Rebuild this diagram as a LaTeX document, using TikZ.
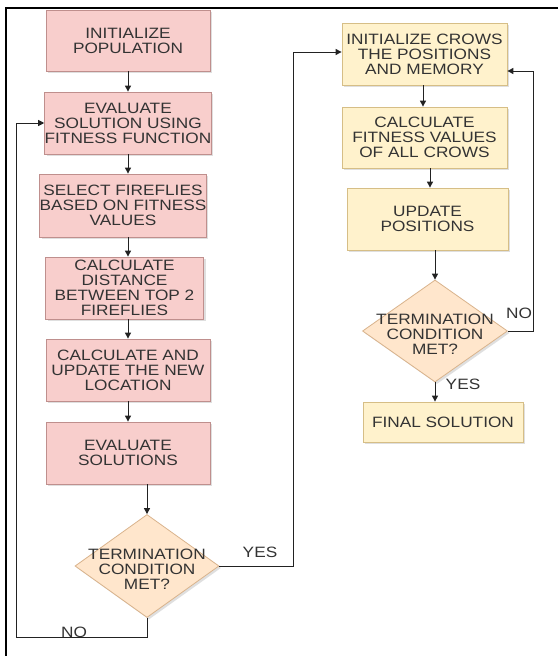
\documentclass[tikz,border=0pt]{standalone}
\usepackage{fontspec}
\setmainfont{Liberation Sans}
\newfontfamily\boxfont{Liberation Sans}[FakeStretch=1.15]
\usetikzlibrary{shapes.geometric,arrows.meta,shadows,calc}
\definecolor{pinkfill}{HTML}{F8CECC}
\definecolor{pinkdraw}{HTML}{BF8F8D}
\definecolor{yelfill}{HTML}{FFF2CC}
\definecolor{yeldraw}{HTML}{D6BE86}
\definecolor{diafill}{HTML}{FFE6CC}
\definecolor{diadraw}{HTML}{D9B38C}
\definecolor{txtgray}{HTML}{333333}
\definecolor{linecol}{HTML}{222222}
\tikzset{
  txt/.style={text=txtgray, font=\boxfont\fontsize{15}{15}\selectfont, align=center, inner sep=0pt},
  shd/.style={drop shadow={shadow xshift=2pt, shadow yshift=-2pt, opacity=0.25, fill=gray}},
  pbox/.style={rectangle, draw=pinkdraw, fill=pinkfill, line width=0.8pt, txt, shd},
  ybox/.style={rectangle, draw=yeldraw, fill=yelfill, line width=0.8pt, txt, shd},
  dia/.style={diamond, draw=diadraw, fill=diafill, line width=0.8pt, inner sep=0pt, shd},
  arr/.style={draw=linecol, line width=1pt, -{Triangle[length=6pt,width=6pt]}},
  lbl/.style={text=txtgray, font=\boxfont\fontsize{15}{15}\selectfont, inner sep=0pt}
}
\begin{document}
\begin{tikzpicture}[x=1pt,y=-1pt]
\useasboundingbox (0,0) rectangle (558,656);
\fill[white] (0,0) rectangle (558,656);
\draw[line width=2pt, black] (558,8) -- (6,8) -- (6,656);

% left column
\node[pbox, minimum width=164pt, minimum height=61pt] (ip) at (128,40.5) {INITIALIZE\\POPULATION};
\node[pbox, minimum width=164pt, minimum height=62pt] (es) at (128,123) {EVALUATE\\SOLUTION USING\\FITNESS FUNCTION};
\node[pbox, minimum width=160pt, minimum height=63pt] (sf) at (123,205.5) {SELECT FIREFLIES\\BASED ON FITNESS\\VALUES};
\node[pbox, minimum width=158pt, minimum height=62pt] (cd) at (124.5,288) {CALCULATE\\DISTANCE\\BETWEEN TOP 2\\FIREFLIES};
\node[pbox, minimum width=164pt, minimum height=62pt] (cu) at (128,370) {CALCULATE AND\\UPDATE THE NEW\\LOCATION};
\node[pbox, minimum width=164pt, minimum height=62pt] (ev) at (128,453) {EVALUATE\\SOLUTIONS};
\node[dia, minimum width=144pt, minimum height=103pt,
  label={[txt, yshift=-3pt]center:{TERMINATION\\CONDITION\\MET?}}] (dl) at (147,566) {};

% right column
\node[ybox, minimum width=165pt, minimum height=62pt] (ic) at (424.5,54) {INITIALIZE CROWS\\THE POSITIONS\\AND MEMORY};
\node[ybox, minimum width=165pt, minimum height=61pt] (cf) at (424.5,137.5) {CALCULATE\\FITNESS VALUES\\OF ALL CROWS};
\node[ybox, minimum width=161pt, minimum height=62pt] (up) at (427.5,219) {UPDATE\\POSITIONS};
\node[dia, minimum width=145pt, minimum height=102pt,
  label={[txt, yshift=-3pt]center:{TERMINATION\\CONDITION\\MET?}}] (dr) at (435,331) {};
\node[ybox, minimum width=160pt, minimum height=40pt] (fs) at (443,422) {FINAL SOLUTION};

% left connectors
\draw[arr] (ip) -- (es);
\draw[arr] (es.south) -- (es.south |- sf.north);
\draw[arr] (sf.south -| es.south) -- (cd.north -| es.south);
\draw[arr] (cd.south -| es.south) -- (cu.north);
\draw[arr] (cu) -- (ev);
\draw[arr] (ev.south -| dl.north) -- (dl.north);
\draw[arr] (dl.south) -- ++(0,20) -| ($(es.west)+(-28,0)$) -- (es.west);
\draw[arr] (dl.east) -- ++(74,0) |- ([yshift=2pt]ic.west);

% right connectors
\draw[arr] ([xshift=-1.5pt]ic.south) -- ([xshift=-1.5pt]cf.north);
\draw[arr] ([xshift=5.5pt]cf.south) -- ([xshift=5.5pt]cf.south |- up.north);
\draw[arr] (up.south -| dr.north) -- (dr.north);
\draw[arr] (dr.south) -- (dr.south |- fs.north);
\draw[arr] (dr.east) -- ++(26,0) |- ([yshift=-17pt]ic.east);

% labels
\node[lbl] (yesl) at (260,552) {YES};
\node[lbl] (nol) at (74,632) {NO};
\node[lbl] (nor) at (519,313) {NO};
\node[lbl] (yesr) at (463,384) {YES};
\end{tikzpicture}
\end{document}
